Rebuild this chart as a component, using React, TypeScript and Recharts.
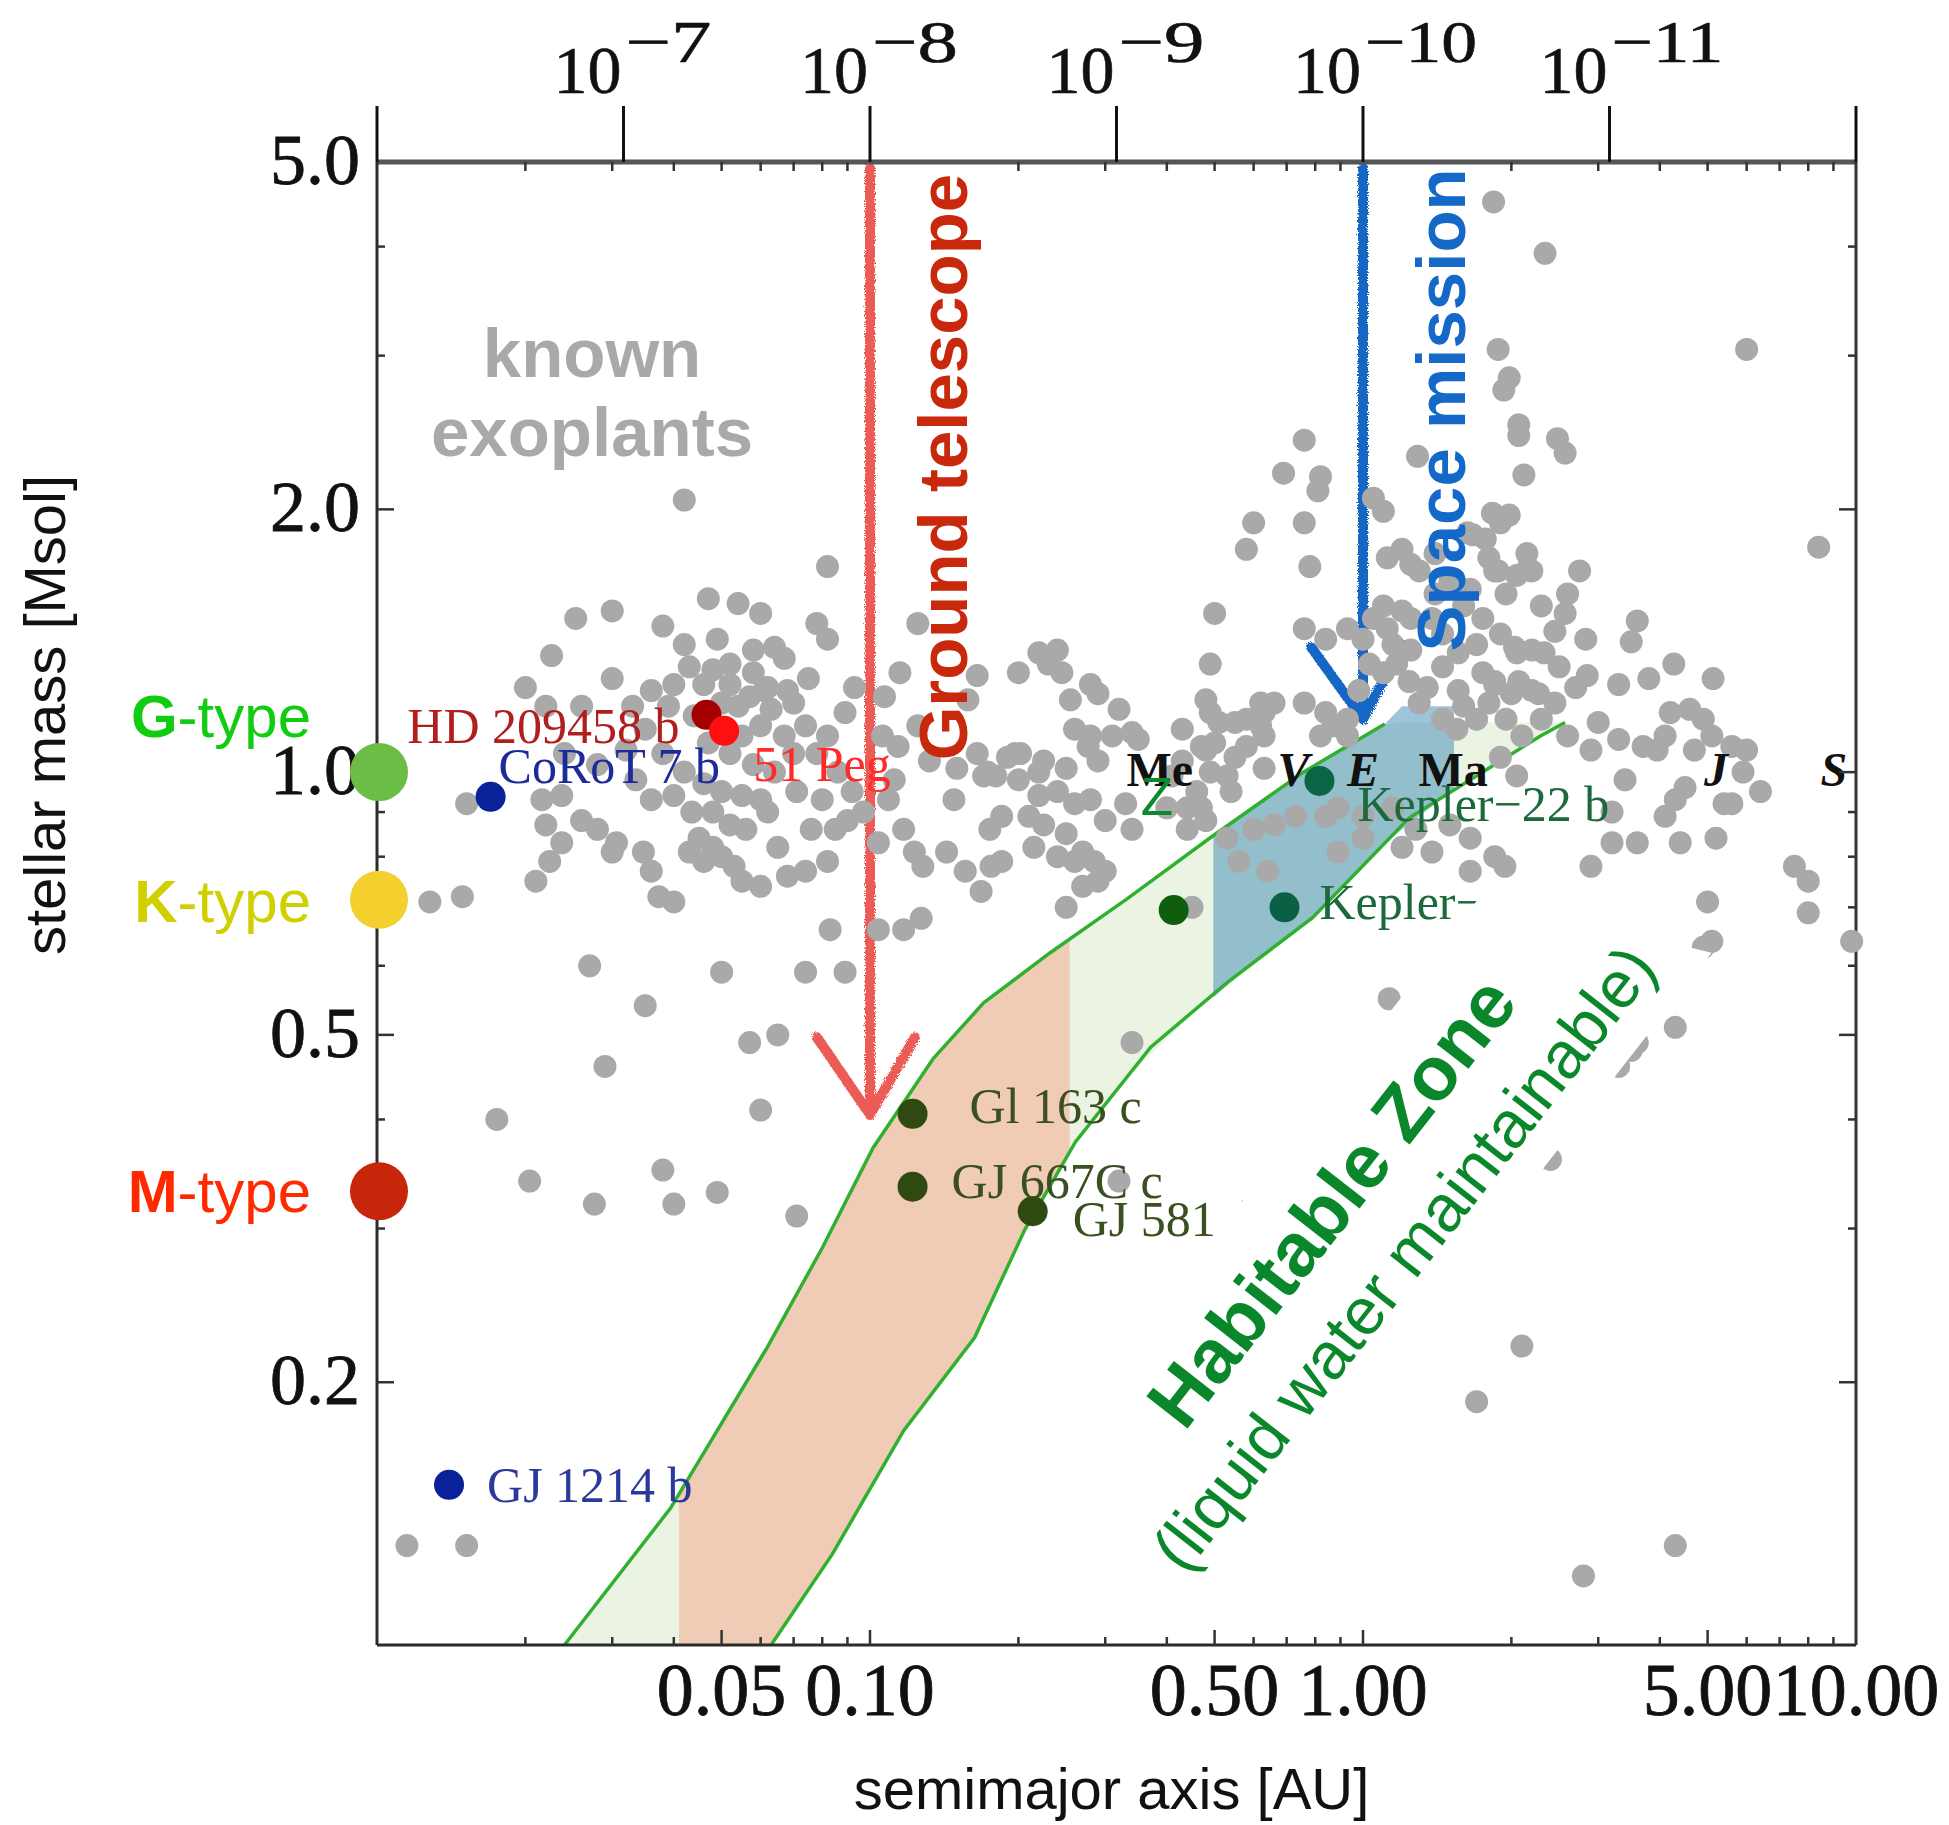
import React from 'react';
import { ComposedChart, Scatter, Line, Area, XAxis, YAxis } from 'recharts';

const SERIF = '"Liberation Serif", "Times New Roman", serif';
const SANS = '"Liberation Sans", Arial, Helvetica, sans-serif';

// known exoplanets: [semimajor axis (AU), stellar mass (Msol)]
const knownPlanets: [number, number][] = [
  [0.042, 2.05], [0.082, 1.72], [0.047, 1.58], [0.054, 1.56], [0.06, 1.52], [0.03, 1.53], [0.0253, 1.5],
  [0.038, 1.47], [0.078, 1.48], [0.082, 1.42], [0.0226, 1.36], [0.02, 1.25], [0.03, 1.28], [0.075, 1.28],
  [0.115, 1.3], [0.107, 1.22], [0.125, 1.48], [0.165, 1.29], [0.158, 1.21],
  [0.042, 1.4], [0.049, 1.42], [0.058, 1.38], [0.064, 1.39], [0.067, 1.35],
  [0.043, 1.32], [0.048, 1.31], [0.052, 1.33], [0.058, 1.3], [0.062, 1.25],
  [0.036, 1.24], [0.04, 1.26], [0.046, 1.26], [0.052, 1.26], [0.068, 1.24],
  [0.033, 1.19], [0.039, 1.19], [0.054, 1.19], [0.061, 1.24], [0.022, 1.19], [0.026, 1.19],
  [0.044, 1.16], [0.05, 1.2], [0.057, 1.22], [0.063, 1.18], [0.07, 1.2],
  [0.055, 1.1], [0.06, 1.13], [0.067, 1.1], [0.074, 1.13], [0.082, 1.1],
  [0.047, 1.08], [0.052, 1.05], [0.058, 1.02], [0.064, 1.0], [0.07, 1.05],
  [0.038, 1.05], [0.042, 1.0], [0.046, 0.97], [0.05, 0.95], [0.028, 1.02], [0.032, 1.06], [0.035, 1.12], [0.024, 1.05],
  [0.089, 1.17], [0.093, 1.25], [0.106, 1.1], [0.114, 1.07], [0.125, 1.13], [0.132, 1.03], [0.15, 1.01], [0.165, 1.05], [0.173, 1.0], [0.148, 0.93],
  [0.078, 1.05], [0.086, 1.0], [0.092, 0.95], [0.08, 0.93], [0.09, 0.88], [0.071, 0.95],
  [0.0335, 0.98], [0.036, 0.93], [0.04, 0.94], [0.0435, 0.9], [0.045, 0.84], [0.048, 0.9], [0.052, 0.87], [0.055, 0.94], [0.06, 0.93], [0.062, 0.9],
  [0.056, 0.86], [0.05, 0.8], [0.053, 0.78], [0.065, 0.82],
  [0.0216, 0.93], [0.0237, 0.94], [0.022, 0.87], [0.0237, 0.83],
  [0.0152, 0.92], [0.026, 0.88], [0.028, 0.86], [0.0306, 0.83], [0.03, 0.81],
  [0.0347, 0.81], [0.036, 0.77], [0.0373, 0.72], [0.04, 0.71], [0.043, 0.81], [0.046, 0.79], [0.048, 0.82], [0.055, 0.75], [0.06, 0.74],
  [0.0224, 0.79], [0.021, 0.75], [0.0149, 0.72], [0.0128, 0.71],
  [0.068, 0.76], [0.074, 0.77], [0.082, 0.79], [0.076, 0.86], [0.085, 0.86], [0.097, 0.9], [0.104, 0.83], [0.117, 0.86], [0.123, 0.81],
  [0.112, 0.98], [0.109, 0.93], [0.128, 0.78], [0.176, 0.78],
  [0.083, 0.66], [0.104, 0.66], [0.117, 0.66], [0.127, 0.68], [0.143, 0.81], [0.156, 0.77], [0.168, 0.73],
  [0.027, 0.6], [0.05, 0.59], [0.074, 0.59], [0.089, 0.59],
  [0.035, 0.54], [0.029, 0.46], [0.0175, 0.4], [0.0204, 0.34], [0.0276, 0.32], [0.038, 0.35], [0.04, 0.32],
  [0.057, 0.49], [0.065, 0.5], [0.06, 0.41], [0.049, 0.33], [0.071, 0.31], [0.0115, 0.13], [0.0152, 0.13],
  [0.22, 1.37], [0.24, 1.38], [0.2, 1.3], [0.23, 1.33], [0.245, 1.3], [0.255, 1.21], [0.28, 1.26], [0.29, 1.23], [0.32, 1.18], [0.31, 1.1], [0.34, 1.11], [0.28, 1.1],
  [0.22, 1.0], [0.202, 1.05], [0.26, 1.12], [0.277, 1.07], [0.29, 1.03], [0.35, 1.09],
  [0.19, 1.04], [0.225, 1.03], [0.25, 1.01], [0.18, 0.99], [0.2, 0.98], [0.22, 0.94], [0.24, 0.95], [0.26, 0.92], [0.28, 0.93],
  [0.185, 0.89], [0.21, 0.89], [0.225, 0.87], [0.25, 0.85], [0.27, 0.81], [0.3, 0.88], [0.33, 0.92], [0.34, 0.86], [0.175, 0.86],
  [0.185, 0.79], [0.215, 0.82], [0.24, 0.8], [0.26, 0.79], [0.285, 0.79], [0.27, 0.74], [0.3, 0.77], [0.25, 0.7], [0.29, 0.75], [0.17, 0.99], [0.197, 1.05],
  [0.45, 0.7], [0.34, 0.49], [0.32, 0.34],
  [0.43, 1.12], [0.47, 1.07], [0.51, 1.14], [0.55, 1.14], [0.58, 1.07], [0.63, 1.1], [0.62, 1.2], [0.63, 1.01],
  [0.49, 1.0], [0.53, 0.99], [0.46, 0.95], [0.47, 0.91], [0.54, 0.95], [0.44, 0.86], [0.44, 0.91], [0.48, 0.88], [0.41, 0.99], [0.4, 0.91],
  [0.5, 1.08], [0.48, 1.06], [0.43, 1.03], [0.55, 1.04],
  [0.49, 1.33], [0.48, 1.21], [0.49, 1.17], [0.5, 1.52],
  [0.66, 1.2], [0.63, 1.17], [0.58, 1.15], [0.62, 1.13],
  [0.76, 1.2], [0.84, 1.17], [0.93, 1.15], [0.87, 1.13], [0.82, 1.1], [0.93, 1.1],
  [0.76, 1.46], [0.84, 1.42], [0.93, 1.46], [1.0, 1.42],
  [0.76, 2.4], [0.69, 2.2], [0.82, 2.18], [0.81, 2.1], [0.6, 1.93], [0.76, 1.93], [0.58, 1.8], [0.78, 1.72],
  [0.53, 0.84], [0.6, 0.86], [0.66, 0.87], [0.73, 0.89], [0.84, 0.89], [0.89, 0.91], [1.0, 0.89], [1.15, 0.91],
  [0.56, 0.79], [0.64, 0.77], [0.89, 0.81], [1.0, 0.84], [1.2, 0.82], [1.28, 0.86], [1.38, 0.81],
  [1.29, 2.3], [1.05, 2.06], [1.1, 1.99], [1.63, 1.88], [1.67, 1.87], [1.83, 1.98],
  [1.2, 1.8], [1.12, 1.76], [1.25, 1.73], [1.3, 1.7], [1.8, 1.76], [2.15, 1.78], [1.85, 1.7], [2.05, 1.68], [2.2, 1.7],
  [1.1, 1.55], [1.2, 1.53], [1.12, 1.46], [1.25, 1.5], [1.05, 1.5], [1.38, 1.5], [1.45, 1.44], [1.56, 1.37],
  [1.75, 1.5], [1.9, 1.44], [2.05, 1.37], [2.2, 1.38], [2.07, 1.27], [2.2, 1.24], [1.85, 1.26], [1.75, 1.3],
  [1.56, 1.24], [1.45, 1.32], [1.6, 1.19], [1.17, 1.33], [1.1, 1.3], [1.03, 1.33], [1.24, 1.27], [0.98, 1.24],
  [1.4, 1.6], [1.5, 1.65], [1.6, 1.55], [1.35, 1.25], [1.3, 1.2], [1.45, 1.15], [1.55, 1.12], [1.7, 1.15], [1.8, 1.2], [1.95, 1.15],
  [2.3, 1.15], [2.45, 1.2], [2.6, 1.1], [2.7, 1.25], [1.25, 1.38], [1.15, 1.4], [1.7, 1.4], [1.65, 1.62], [1.4, 1.78], [1.95, 1.6], [2.3, 1.55], [2.45, 1.45], [2.6, 1.6],
  [1.5, 0.87], [1.65, 0.84], [1.85, 0.8], [1.65, 0.77], [1.9, 1.04], [2.1, 1.1], [2.05, 0.99],
  [1.84, 4.5], [2.34, 3.93], [6.0, 3.05], [1.88, 3.05], [1.98, 2.83], [1.93, 2.74], [2.07, 2.5], [2.07, 2.43], [2.48, 2.41], [2.57, 2.32], [2.12, 2.19],
  [1.98, 1.97], [1.9, 1.93], [1.77, 1.85], [8.4, 1.81], [2.16, 1.71], [1.88, 1.7], [2.75, 1.7], [2.57, 1.52], [3.6, 1.49], [3.5, 1.41], [2.83, 1.42],
  [2.33, 1.37], [2.03, 1.39], [4.27, 1.33], [5.13, 1.28], [3.8, 1.28], [3.3, 1.26], [2.85, 1.29], [1.85, 1.27], [2.0, 1.23], [2.27, 1.23], [2.5, 1.32],
  [3.0, 1.14], [3.3, 1.09], [3.7, 1.07], [3.95, 1.06], [2.9, 1.06], [4.2, 1.17], [4.1, 1.1], [4.6, 1.18], [4.9, 1.15], [5.1, 1.1], [4.7, 1.06],
  [5.6, 1.07], [6.0, 1.06], [5.9, 1.0], [6.4, 0.95], [5.4, 0.92], [5.6, 0.92], [4.5, 0.96], [4.3, 0.93], [4.1, 0.89], [3.4, 0.98], [3.2, 0.9],
  [3.2, 0.83], [3.6, 0.83], [4.4, 0.83], [5.2, 0.84], [5.0, 0.71], [7.5, 0.78], [8.0, 0.75], [8.0, 0.69], [9.8, 0.64], [5.1, 0.64], [4.9, 0.63],
  [4.3, 0.51], [2.9, 0.78], [1.94, 0.78],
  [1.13, 0.55], [2.4, 0.36], [2.1, 0.22], [1.7, 0.19], [4.3, 0.13], [2.8, 0.12], [3.5, 0.48], [3.3, 0.46], [3.6, 0.49],
];

// habitable zone edges
const hzInnerA = [0.024, 0.0394, 0.0618, 0.08, 0.1014, 0.1345, 0.17, 0.232, 0.33, 0.49, 0.757, 1.107];
const hzInnerM = [0.1, 0.1435, 0.219, 0.285, 0.371, 0.47, 0.544, 0.621, 0.714, 0.841, 1.0, 1.135];
const hzOuterA = [0.063, 0.0838, 0.117, 0.163, 0.206, 0.261, 0.371, 0.53, 0.79, 1.24, 2.29, 2.57];
const hzOuterM = [0.1, 0.127, 0.176, 0.225, 0.299, 0.377, 0.484, 0.574, 0.681, 0.886, 1.1, 1.14];

// band between the edges (lower / upper mass at each AU)
const bandA = [0.024, 0.04, 0.063, 0.084, 0.1014, 0.117, 0.1345, 0.163, 0.206, 0.261, 0.33, 0.49, 0.757, 1.107, 1.24, 2.29, 2.57];
const bandLo = [0.1, 0.1, 0.1, 0.127, 0.153, 0.176, 0.195, 0.225, 0.299, 0.377, 0.445, 0.553, 0.669, 0.829, 0.886, 1.1, 1.14];
const bandHi = [0.1, 0.145, 0.222, 0.301, 0.371, 0.418, 0.47, 0.53, 0.59, 0.651, 0.714, 0.841, 1.0, 1.135, 1.14, 1.14, 1.14];

// part reachable by ground telescopes
const groundA = [0.041, 0.063, 0.084, 0.1014, 0.117, 0.1345, 0.163, 0.206, 0.254];
const groundLo = [0.1, 0.1, 0.127, 0.153, 0.176, 0.195, 0.225, 0.299, 0.37];
const groundHi = [0.149, 0.222, 0.301, 0.371, 0.418, 0.47, 0.53, 0.59, 0.645];

// part reachable by a space mission
const spaceA = [0.497, 0.6, 0.757, 0.9, 1.107, 1.2, 1.53];
const spaceLo = [0.552, 0.605, 0.669, 0.73, 0.829, 0.86, 0.955];
const spaceHi = [0.842, 0.915, 1.0, 1.065, 1.135, 1.19, 1.19];

// arrows
const groundShaftA = [0.1, 0.1];
const groundShaftM = [4.92, 0.405];
const groundHeadA = [0.078, 0.1, 0.1234];
const groundHeadM = [0.497, 0.405, 0.497];
const spaceShaftA = [1.0, 1.0];
const spaceShaftM = [4.92, 1.15];
const spaceHeadA = [0.785, 1.0, 1.2];
const spaceHeadM = [1.39, 1.15, 1.4];

// highlighted planets
const planetLabels = ['HD 209458 b', '51 Peg', 'CoRoT 7 b', 'GJ 1214 b', 'Gl 163 c', 'GJ 667C c', 'GJ 581 d', '', 'Kepler−', 'Kepler−22 b'];
const planetA = [0.0466, 0.0506, 0.017, 0.014, 0.122, 0.122, 0.2138, 0.413, 0.693, 0.816];
const planetM = [1.163, 1.115, 0.937, 0.1526, 0.406, 0.335, 0.314, 0.695, 0.7, 0.977];

// solar system
const solarNames = ['Me', 'V', 'E', 'Ma', 'J', 'S'];
const solarA = [0.387, 0.723, 1.0, 1.524, 5.2, 9.54];

// stellar types (mass of a typical star)
const typeLetters = ['G', 'K', 'M'];
const typeMass = [1.0, 0.714, 0.331];

// axes
const bottomTicks = [0.02, 0.03, 0.04, 0.05, 0.06, 0.07, 0.08, 0.09, 0.1, 0.2, 0.3, 0.4, 0.5, 0.6, 0.7, 0.8, 0.9, 1, 2, 3, 4, 5, 6, 7, 8, 9, 10];
const bottomLabelVals = [0.05, 0.1, 0.5, 1, 5, 10];
const bottomLabelText = ['0.05', '0.10', '0.50', '1.00', '5.00', '10.00'];
const topMajor = [0.01, 0.0316228, 0.1, 0.316228, 1, 3.16228, 10];
const topExp = ['', '−7', '−8', '−9', '−10', '−11', ''];
const topMinor = [0.02, 0.03, 0.04, 0.05, 0.06, 0.07, 0.08, 0.09, 0.2, 0.3, 0.4, 0.5, 0.6, 0.7, 0.8, 0.9, 2, 3, 4, 5, 6, 7, 8, 9];
const massTicks = [5, 4, 3, 2, 1, 0.9, 0.8, 0.7, 0.6, 0.5, 0.4, 0.3, 0.2];
const massLabelVals = [5, 2, 1, 0.5, 0.2];
const massLabelText = ['5.0', '2.0', '1.0', '0.5', '0.2'];
const frameA = [0.01, 10];
const frameM = [0.1, 5];

// styling for the highlighted planets
const planetStyle = [
  { dot: '#a50000', text: '#b01e1e', dx: -27, dy: 28, anchor: 'end' },
  { dot: '#ff1010', text: '#ff2a2a', dx: 29, dy: 50, anchor: 'start' },
  { dot: '#0a2299', text: '#1c2a9a', dx: 8, dy: -14, anchor: 'start' },
  { dot: '#0a2299', text: '#2a3a9a', dx: 38, dy: 17, anchor: 'start' },
  { dot: '#2f4a10', text: '#3a5020', dx: 57, dy: 9, anchor: 'start' },
  { dot: '#2f4a10', text: '#3a5020', dx: 39, dy: 11, anchor: 'start' },
  { dot: '#2f4a10', text: '#3a5020', dx: 40, dy: 25, anchor: 'start' },
  { dot: '#0e5e0e', text: '#1c6a3c', dx: 0, dy: 0, anchor: 'start' },
  { dot: '#0b5f45', text: '#1c6a3c', dx: 35, dy: 12, anchor: 'start' },
  { dot: '#0b6545', text: '#1c6a3c', dx: 38, dy: 40, anchor: 'start' },
];
const typeStyle = [
  { circle: '#6cbd45', text: '#11cc11', dy: -35 },
  { circle: '#f4d02e', text: '#d0cf00', dy: 22 },
  { circle: '#c8260a', text: '#ff2a00', dy: 21 },
];

const idx = (arr: number[], v: number) => arr.findIndex((t) => Math.abs(t - v) / t < 1e-4);

const BottomTick = (props: any) => {
  const { x, y, payload } = props;
  const i = idx(bottomLabelVals, payload.value);
  return (
    <g>
      {payload.value < 10 && <line x1={x} x2={x} y1={y} y2={y - (i >= 0 ? 15 : 8)} stroke="#333" strokeWidth={2.5} />}
      {i >= 0 && (
        <text x={x} y={y + 70} textAnchor="middle" fontFamily={SERIF} fontSize={74} fill="#111" stroke="#111" strokeWidth={0.8}>
          {bottomLabelText[i]}
        </text>
      )}
    </g>
  );
};

const TopTick = (props: any) => {
  const { x, y, payload } = props;
  const i = idx(topMajor, payload.value);
  if (i < 0) return <line x1={x} x2={x} y1={y} y2={y + 9} stroke="#333" strokeWidth={2.5} />;
  const exp = topExp[i];
  return (
    <g>
      <line x1={x} x2={x} y1={y} y2={y - 56} stroke="#111" strokeWidth={3} />
      {exp && (
        <g fill="#111" stroke="#111" strokeWidth={0.6} fontFamily={SERIF}>
          <text x={x - 2} y={y - 69} textAnchor="end" fontSize={68}>10</text>
          <text x={x + 2} y={y - 100} fontSize={60} textLength={exp.length > 2 ? 112 : 86} lengthAdjust="spacingAndGlyphs">{exp}</text>
        </g>
      )}
    </g>
  );
};

const LeftTick = (props: any) => {
  const { x, y, payload } = props;
  const v = payload.value;
  const i = idx(massLabelVals, v);
  const t = idx(typeMass, v);
  const isScale = idx(massTicks, v) >= 0;
  const s = t >= 0 ? typeStyle[t] : null;
  return (
    <g>
      {isScale && v < 5 && <line x1={x} x2={x + (i >= 0 ? 17 : 8)} y1={y} y2={y} stroke="#333" strokeWidth={2.5} />}
      {i >= 0 && (
        <text x={x - 17} y={y + 22} textAnchor="end" fontFamily={SERIF} fontSize={72} fill="#111" stroke="#111" strokeWidth={0.8}>
          {massLabelText[i]}
        </text>
      )}
      {s && (
        <g>
          <circle cx={x + 2} cy={y} r={29} fill={s.circle} />
          <text x={x - 66} y={y + s.dy} textAnchor="end" fontFamily={SANS} fontSize={60} fill={s.text}>
            <tspan fontWeight="bold">{typeLetters[t]}</tspan>-type
          </text>
        </g>
      )}
    </g>
  );
};

const RightTick = (props: any) => {
  const { x, y, payload } = props;
  const i = idx(massLabelVals, payload.value);
  if (payload.value >= 5) return <g />;
  return <line x1={x} x2={x - (i >= 0 ? 17 : 8)} y1={y} y2={y} stroke="#333" strokeWidth={2.5} />;
};

// invisible marker, also carries the chalk filter used by the hand-drawn arrows
const Hidden = () => (
  <defs>
    <filter id="chalk" filterUnits="userSpaceOnUse" x="0" y="0" width="1949" height="1825">
      <feTurbulence type="fractalNoise" baseFrequency="0.9" numOctaves="2" seed="3" />
      <feDisplacementMap in="SourceGraphic" scale="5" />
    </filter>
  </defs>
);

const GrayDot = (p: any) => <circle cx={p.cx} cy={p.cy} r={11.5} fill="#a9a9a9" />;

const PlanetMark = (p: any) => {
  const s = planetStyle[p.payload.i];
  return (
    <g>
      <circle cx={p.cx} cy={p.cy} r={15} fill={s.dot} />
      {p.payload.label && (
        <text x={p.cx + s.dx} y={p.cy + s.dy} textAnchor={s.anchor} fontFamily={SERIF} fontSize={50} fill={s.text}>
          {p.payload.label}
        </text>
      )}
    </g>
  );
};

const SolarMark = (p: any) => {
  const n = p.payload.name;
  const italic = n === 'V' || n === 'E' || n === 'J' || n === 'S';
  return (
    <text x={p.cx + (n === 'S' ? -12 : 0)} y={p.cy + 14} textAnchor="middle" fontFamily={SERIF} fontWeight="bold" fontStyle={italic ? 'italic' : 'normal'} fontSize={48} fill="#111">
      {n}
    </text>
  );
};

const NoteMark = (p: any) => {
  const { cx, cy } = p;
  switch (p.payload.kind) {
    case 'known':
      return (
        <g fontFamily={SANS} fontWeight="bold" fontSize={69} fill="#a9a9a9" textAnchor="middle">
          <text x={cx} y={cy}>known</text>
          <text x={cx} y={cy + 79}>exoplants</text>
        </g>
      );
    case 'ground':
      return (
        <text transform={`translate(${cx},${cy}) rotate(-90)`} textAnchor="middle" fontFamily={SANS} fontWeight="bold" fontSize={69} fill="#c8280b">
          Ground telescope
        </text>
      );
    case 'space':
      return (
        <text transform={`translate(${cx},${cy}) rotate(-90)`} textAnchor="middle" fontFamily={SANS} fontWeight="bold" fontSize={69} fill="#1468c8">
          Space mission
        </text>
      );
    case 'z':
      return (
        <text x={cx} y={cy + 19} textAnchor="middle" fontFamily={SANS} fontSize={53} fill="#0b8a2e">Z</text>
      );
    case 'hz':
      return (
        <g transform={`translate(${cx},${cy}) rotate(-52)`}>
          <polygon points="-490,-97 333,-97 430,120 -410,120" fill="#ffffff" />
          <text x={0} y={0} textAnchor="middle" fontFamily={SANS} fontWeight="bold" fontSize={76} fill="#0b872b">Habitable Zone</text>
          <text x={0} y={88} textAnchor="middle" fontFamily={SANS} fontSize={66} fill="#0b872b">(liquid water maintainable)</text>
        </g>
      );
    default:
      return <g />;
  }
};

const notes = [
  { kind: 'known', a: 0.0273, m: 2.835 },
  { kind: 'ground', a: 0.1575, m: 2.236 },
  { kind: 'space', a: 1.611, m: 2.6 },
  { kind: 'z', a: 0.382, m: 0.939 },
];
const hzNote = [{ kind: 'hz', a: 0.951, m: 0.3086 }];

const XTitle = (props: any) => {
  const vb = props.viewBox || { x: 377, y: 1645, width: 1479 };
  return (
    <text x={vb.x + vb.width / 2 - 5} y={vb.y + 164} textAnchor="middle" fontFamily={SANS} fontSize={58} fill="#111">
      semimajor axis [AU]
    </text>
  );
};

const YTitle = (props: any) => {
  const vb = props.viewBox || { x: 376, y: 162 };
  return (
    <text transform={`translate(${vb.x - 311},${vb.y + 553}) rotate(-90)`} textAnchor="middle" fontFamily={SANS} fontSize={58} fill="#111">
      stellar mass [Msol]
    </text>
  );
};

const App = () => {
  const gray = knownPlanets.map(([a, m]) => ({ a, m }));
  const band = bandA.map((a, i) => ({ a, range: [bandLo[i], bandHi[i]] }));
  const ground = groundA.map((a, i) => ({ a, range: [groundLo[i], groundHi[i]] }));
  const space = spaceA.map((a, i) => ({ a, range: [spaceLo[i], spaceHi[i]] }));
  const inner = hzInnerA.map((a, i) => ({ a, m: hzInnerM[i] }));
  const outer = hzOuterA.map((a, i) => ({ a, m: hzOuterM[i] }));
  const gShaft = groundShaftA.map((a, i) => ({ a, m: groundShaftM[i] }));
  const gHead = groundHeadA.map((a, i) => ({ a, m: groundHeadM[i] }));
  const sShaft = spaceShaftA.map((a, i) => ({ a, m: spaceShaftM[i] }));
  const sHead = spaceHeadA.map((a, i) => ({ a, m: spaceHeadM[i] }));
  const planets = planetA.map((a, i) => ({ a, m: planetM[i], label: planetLabels[i], i }));
  const solar = solarA.map((a, i) => ({ a, m: 1.0, name: solarNames[i] }));
  const frame = frameA.map((a, i) => ({ a, m: frameM[i] }));
  const topTicks = [...topMajor, ...topMinor].sort((p, q) => p - q);
  // stellar-type markers go last so they sit on top of the scale ticks
  const leftTicks = [...massTicks, ...typeMass.slice(1)];

  const common = { xAxisId: 'b', yAxisId: 'l', isAnimationActive: false } as any;
  const arrowStyle = { strokeWidth: 10, strokeLinecap: 'round', strokeLinejoin: 'round', filter: 'url(#chalk)' } as any;

  return (
    <div style={{ position: 'absolute', left: 0, top: 0, width: 1949, height: 1825, background: '#fff' }}>
      <ComposedChart width={1949} height={1825} margin={{ top: 161, right: 92, bottom: 179, left: 376 }}>
        <XAxis xAxisId="b" dataKey="a" type="number" scale="log" domain={[0.01, 10]} ticks={bottomTicks} interval={0}
          tickSize={0} tickMargin={0} tickLine={false} tick={BottomTick} height={1}
          axisLine={{ stroke: '#2b2b2b', strokeWidth: 3 }} label={XTitle} />
        <XAxis xAxisId="t" orientation="top" dataKey="a" type="number" scale="log" domain={[0.01, 10]} ticks={topTicks} interval={0}
          tickSize={0} tickMargin={0} tickLine={false} tick={TopTick} height={1}
          axisLine={{ stroke: '#555', strokeWidth: 5 }} />
        <YAxis yAxisId="l" dataKey="m" type="number" scale="log" domain={[0.1, 5]} ticks={leftTicks} interval={0}
          tickSize={0} tickMargin={0} tickLine={false} tick={LeftTick} width={1}
          axisLine={{ stroke: '#2b2b2b', strokeWidth: 3 }} label={YTitle} />
        <YAxis yAxisId="r" orientation="right" dataKey="m" type="number" scale="log" domain={[0.1, 5]} ticks={massTicks} interval={0}
          tickSize={0} tickMargin={0} tickLine={false} tick={RightTick} width={1}
          axisLine={{ stroke: '#333', strokeWidth: 3 }} />

        <Scatter xAxisId="t" yAxisId="r" data={frame} shape={Hidden} isAnimationActive={false} />
        <Area {...common} data={band} dataKey="range" type="linear" stroke="none" fill="#ebf4e3" fillOpacity={1} dot={false} activeDot={false} />
        <Area {...common} data={ground} dataKey="range" type="linear" stroke="none" fill="#f0cbb5" fillOpacity={1} dot={false} activeDot={false} />
        <Scatter {...common} data={gray} shape={GrayDot} />
        <Area {...common} data={space} dataKey="range" type="linear" stroke="none" fill="#2279af" fillOpacity={0.44} dot={false} activeDot={false} />
        <Line {...common} data={inner} dataKey="m" type="linear" stroke="#2fb12f" strokeWidth={3.5} dot={false} activeDot={false} />
        <Line {...common} data={outer} dataKey="m" type="linear" stroke="#2fb12f" strokeWidth={3.5} dot={false} activeDot={false} />
        <Line {...common} {...arrowStyle} data={gShaft} dataKey="m" type="linear" stroke="#ec5b57" dot={false} activeDot={false} />
        <Line {...common} {...arrowStyle} data={gHead} dataKey="m" type="linear" stroke="#ec5b57" dot={false} activeDot={false} />
        <Line {...common} {...arrowStyle} data={sShaft} dataKey="m" type="linear" stroke="#1466c6" dot={false} activeDot={false} />
        <Line {...common} {...arrowStyle} data={sHead} dataKey="m" type="linear" stroke="#1466c6" dot={false} activeDot={false} />
        <Scatter {...common} data={solar} shape={SolarMark} />
        <Scatter {...common} data={planets} shape={PlanetMark} />
        <Scatter {...common} data={hzNote} shape={NoteMark} />
        <Scatter {...common} data={notes} shape={NoteMark} />
      </ComposedChart>
    </div>
  );
};

export default App;
